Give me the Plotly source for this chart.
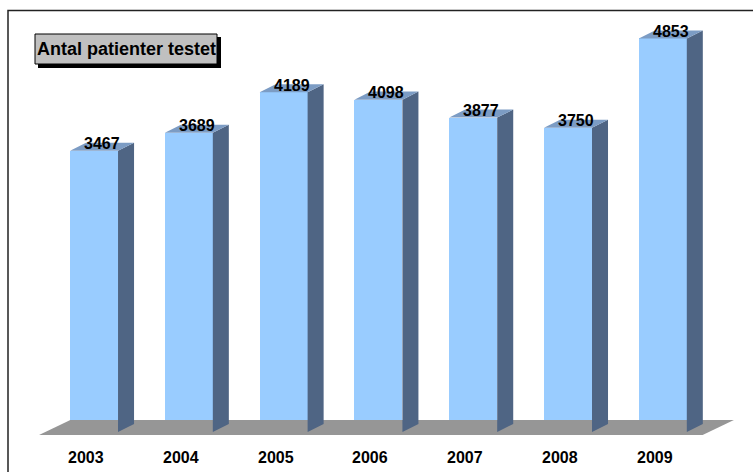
import plotly.graph_objects as go

years = ["2003", "2004", "2005", "2006", "2007", "2008", "2009"]
values = [3467, 3689, 4189, 4098, 3877, 3750, 4853]
title_text = "Antal patienter testet"

FRONT = "#99CCFF"
SIDE = "#4F6584"
TOP = "#7C9CC4"
FLOOR = "#969696"

W = 0.506      # bar width (category units)
DX = 0.169     # depth offset in x (category units)
DY = 99        # depth offset in y (value units)

xs = list(range(len(values)))
fig = go.Figure()

# floor
fx = [-0.58, 6.42, 6.75, -0.25, -0.58]
fy = [-37, -37, 148, 148, -37]
fig.add_trace(go.Scatter(x=fx, y=fy, fill="toself", fillcolor=FLOOR, mode="lines",
                         line=dict(width=0), hoverinfo="skip", showlegend=False))

# side and top faces
for i, v in zip(xs, values):
    x0, x1 = i - W / 2, i + W / 2
    fig.add_trace(go.Scatter(
        x=[x1, x1 + DX, x1 + DX, x1, x1], y=[0, DY, v + DY, v, 0],
        fill="toself", fillcolor=SIDE, mode="lines", line=dict(width=0),
        hoverinfo="skip", showlegend=False))
    fig.add_trace(go.Scatter(
        x=[x0, x0 + DX, x1 + DX, x1, x0], y=[v, v + DY, v + DY, v, v],
        fill="toself", fillcolor=TOP, mode="lines", line=dict(width=0),
        hoverinfo="skip", showlegend=False))

# front faces
fig.add_trace(go.Bar(x=xs, y=values, width=W, marker=dict(color=FRONT, line=dict(width=0)),
                     showlegend=False, hoverinfo="skip"))

annotations = []
for i, v in zip(xs, values):
    annotations.append(dict(x=i + DX / 2, y=v + DY * 0.9, xref="x", yref="y", text=f"<b>{v}</b>",
                            showarrow=False, yanchor="middle", xanchor="center",
                            font=dict(family="Liberation Sans", size=16, color="black")))
for i, yr in zip(xs, years):
    annotations.append(dict(x=i - 0.084, y=0, xref="x", yref="paper", text=f"<b>{yr}</b>",
                            showarrow=False, yanchor="middle", xanchor="center", yshift=-17,
                            font=dict(family="Liberation Sans", size=16, color="black")))


def px(x):
    return (x - 20) / 725


def py(y):
    return 1 - (y - 20) / 420


annotations.append(dict(x=px(126.5), y=py(49.5), xref="paper", yref="paper",
                        text=f"<b>{title_text}</b>", showarrow=False,
                        xanchor="center", yanchor="middle",
                        font=dict(family="Liberation Sans", size=18, color="black")))

shapes = [
    dict(type="rect", xref="paper", yref="paper", x0=px(38), x1=px(221), y0=py(68), y1=py(37),
         fillcolor="black", line=dict(width=0)),
    dict(type="rect", xref="paper", yref="paper", x0=px(35), x1=px(217), y0=py(64), y1=py(34),
         fillcolor="#C0C0C0", line=dict(color="black", width=1)),
    dict(type="rect", xref="paper", yref="paper", x0=px(8), x1=1.2, y0=-0.3, y1=py(10.5),
         line=dict(color="#222222", width=1.5)),
]

fig.update_layout(
    width=753, height=472,
    margin=dict(l=20, r=8, t=20, b=32),
    paper_bgcolor="white", plot_bgcolor="white",
    xaxis=dict(range=[-0.781, 6.867], visible=False, fixedrange=True),
    yaxis=dict(range=[-98.6, 5080], visible=False, fixedrange=True),
    annotations=annotations,
    shapes=shapes,
    bargap=0,
)

fig.write_html("out.html")
